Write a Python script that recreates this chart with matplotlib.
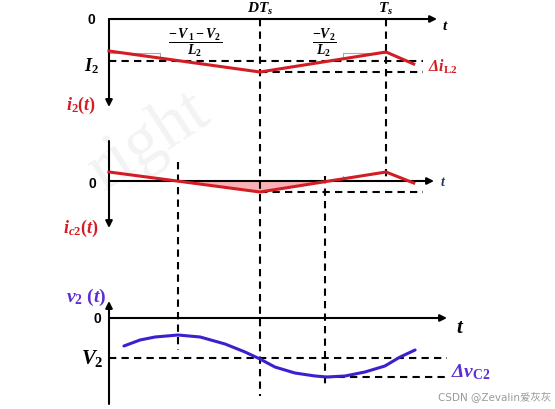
import matplotlib
matplotlib.use('Agg')
import matplotlib.pyplot as plt
import numpy as np

plt.rcParams['mathtext.fontset'] = 'custom'
plt.rcParams['mathtext.it'] = 'Liberation Serif:italic:bold'
plt.rcParams['mathtext.rm'] = 'Liberation Serif:bold'
plt.rcParams['mathtext.bf'] = 'Liberation Serif:bold'

# time in units of Ts, 0 at the vertical axes
D = 0.545
t_i = [0, D, 1.0, 1.10]
i2 = [1.0, -1.1, 0.9, -0.3]          # i2 - I2 (top panel)
ic2 = [0.9, -1.1, 0.9, -0.2]         # ic2 (middle panel)
t_zero = [0.25, 0.78]                # zero crossings of ic2
t_v = [0.054, 0.112, 0.166, 0.249, 0.329, 0.419, 0.491, 0.545, 0.599,
       0.671, 0.744, 0.787, 0.852, 0.924, 0.996, 1.051, 1.105]
v2 = [1.2, 1.8, 2.1, 2.3, 2.1, 1.4, 0.6, -0.1, -0.9,
      -1.5, -1.8, -1.9, -1.8, -1.4, -0.8, 0.1, 0.8]   # v2 - V2

RED = '#d41c24'
BLUE = '#3d1fd0'
LBL_BLUE = '#5b2fd4'

X0, TS = 109, 277   # pixel of t=0 and length of Ts


def px(x):
    return (x - X0) / TS


def y_top(v):
    return 62 - 10 * np.asarray(v)


def y_mid(v):
    return 182 - 10 * np.asarray(v)


def y_bot(v):
    return 359 - 10 * np.asarray(v)


fig = plt.figure(figsize=(5.55, 4.10), dpi=100)
ax = fig.add_axes([0, 0, 1, 1])
ax.set_xlim(px(0), px(555))
ax.set_ylim(410, 0)
ax.axis('off')

# faint watermark
ax.text(px(214), 120, 'right', fontsize=50, family='Liberation Serif', color='#f3f3f3',
        rotation=33, rotation_mode='anchor', ha='right', va='baseline', zorder=0)


def arrow(x0, y0, x1, y1, ms=10):
    ax.annotate('', xy=(x1, y1), xytext=(x0, y0),
                arrowprops=dict(arrowstyle='-|>', lw=1.5, color='k', mutation_scale=ms,
                                shrinkA=0, shrinkB=0), zorder=3)


def dashed(xs, ys):
    ax.plot(xs, ys, color='k', lw=1.5, ls=(0, (3.5, 2.5)), zorder=2)


# ---- top panel: i2(t)
arrow(0, 20, px(437), 20)
arrow(0, 20, 0, 108)
dashed([0, px(423)], [y_top(0)] * 2)
dashed([D, px(423)], [y_top(min(i2))] * 2)
ax.plot([0, px(160), px(160)], [54, 54, 61], color='#a8a8a8', lw=0.8, zorder=1)
ax.plot([px(343), px(343), px(386)], [59, 54, 54], color='#a8a8a8', lw=0.8, zorder=1)
ax.plot(t_i, y_top(i2), color=RED, lw=2.2, zorder=4)

ax.text(px(91), 20, '0', fontsize=10, fontweight='bold', family='Liberation Sans', ha='center', va='center')
ax.text(D, 9, '$DT_s$', fontsize=11, ha='center', va='center')
ax.text(1.0, 9, '$T_s$', fontsize=11, ha='center', va='center')
ax.text(px(445), 25, '$t$', fontsize=11, ha='center', va='center')
ax.text(px(195), 43, r'$\dfrac{-\,V_{\,1}-V_2}{L_2}$', fontsize=10, ha='center', va='center')
ax.text(px(324), 43, r'$\dfrac{-V_2}{L_2}$', fontsize=10, ha='center', va='center')
ax.text(px(91), 66, '$I_2$', fontsize=13, ha='center', va='center')
ax.text(px(81), 105, '$i_2(t)$', fontsize=13, color=RED, ha='center', va='center')
ax.text(px(443), 67, r'Δ$i_{\mathrm{L2}}$', fontsize=11.5, color=RED, family='Liberation Serif',
        style='italic', weight='bold', ha='center', va='center')

# ---- middle panel: ic2(t)
arrow(0, 182, px(434), 182)
arrow(0, 142, 0, 229)
dashed([D, px(423)], [y_mid(min(ic2))] * 2)
t_f = [t_zero[0], D, t_zero[1]]
ax.fill_between(t_f, y_mid([0, min(ic2), 0]), 182, color='#f8b2b6', lw=0, zorder=1)
ax.plot(t_i, y_mid(ic2), color=RED, lw=2.2, zorder=4)
ax.plot([px(343)] * 2, [177, 182], color='#a8a8a8', lw=0.8, zorder=1)

ax.text(px(92), 184, '0', fontsize=10, fontweight='bold', family='Liberation Sans', ha='center', va='center')
ax.text(px(443), 182, '$t$', fontsize=10, color='#1f3864', ha='center', va='center')
ax.text(px(81), 228, '$i_{c2}(t)$', fontsize=13, color=RED, ha='center', va='center')

# ---- bottom panel: v2(t)
arrow(0, 405, 0, 302)
arrow(0, 319, px(447), 319)
dashed([0, px(447)], [y_bot(0)] * 2)
dashed([t_zero[1], px(445)], [y_bot(min(v2))] * 2)
ax.plot(t_v, y_bot(v2), color=BLUE, lw=2.2, solid_capstyle='round', solid_joinstyle='round', zorder=4)

ax.text(px(97), 319, '0', fontsize=10, fontweight='bold', family='Liberation Sans', ha='center', va='center')
ax.text(px(86), 297, '$v_2\\ (t)$', fontsize=14, color=LBL_BLUE, ha='center', va='center')
ax.text(px(92), 359, '$V_2$', fontsize=15, ha='center', va='center')
ax.text(px(460), 327, '$t$', fontsize=15, ha='center', va='center')
ax.text(px(471), 372, r'Δ$v_{\mathrm{C2}}$', fontsize=14, color=LBL_BLUE, family='Liberation Serif',
        style='italic', weight='bold', ha='center', va='center')

# ---- vertical guide lines
dashed([D, D], [20, 397])
dashed([1.0, 1.0], [20, 182])
dashed([t_zero[0]] * 2, [163, 351])
dashed([t_zero[1]] * 2, [177, 387])

ax.text(px(551), 398, 'CSDN @Zevalin爱灰灰', fontsize=7.5, color='#9a9a9a', ha='right', va='center',
        family=['DejaVu Sans', 'Noto Sans CJK SC'])

fig.savefig('out.png', dpi=100)
